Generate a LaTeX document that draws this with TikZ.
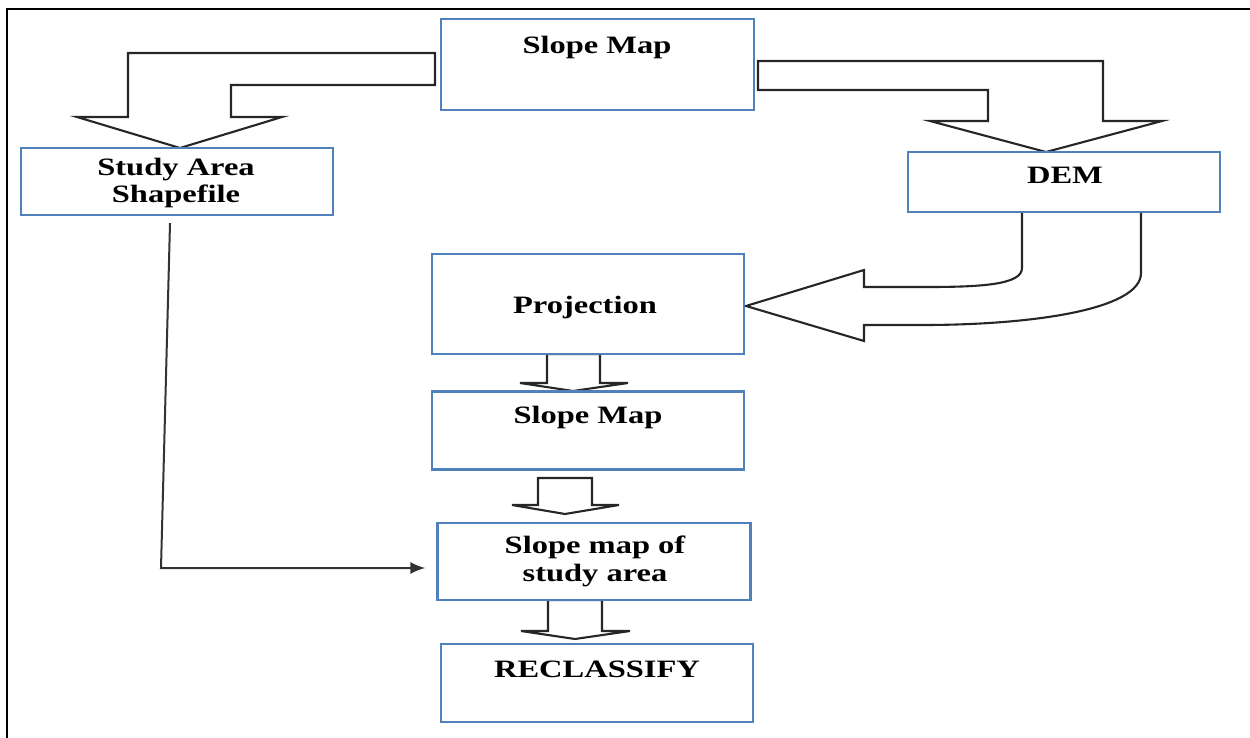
\documentclass[tikz,border=0pt]{standalone}
\usepackage{fontspec}
\setmainfont{Liberation Serif}
\usetikzlibrary{arrows.meta,calc}
\definecolor{boxblue}{RGB}{79,129,189}
\pgfdeclarelayer{back}
\pgfsetlayers{back,main}
% wide bold lettering
\newcommand\stretchtxt[1]{\scalebox{1.3}[1]{#1}}
\begin{document}
\begin{tikzpicture}[x=1pt,y=-1pt,
  box/.style={draw=boxblue,line width=2.2pt,fill=white,inner sep=0pt},
  lbl/.style={anchor=base,font=\bfseries\fontsize{25}{27.5}\selectfont,align=center,inner sep=0pt},
  blk/.style={draw=black!85,line width=2.1pt,fill=white,line join=miter},
  link/.style={draw=black!80,line width=2pt,-{Latex[length=15pt,width=12pt]}}]
\useasboundingbox (0,0) rectangle (1250,738);

% outer frame (top and left edges)
\draw[line width=2.8pt] (7,738) -- (7,9) -- (1250,9);

% process boxes
\node[box,minimum width=313pt,minimum height=91pt] (slopetop) at (597.5,64.5) {};
\node[box,minimum width=312pt,minimum height=67pt] (study) at (177,181.5) {};
\node[box,minimum width=312pt,minimum height=60pt] (dem) at (1064,182) {};
\node[box,minimum width=312pt,minimum height=100pt] (proj) at (588,304) {};
\node[box,minimum width=312pt,minimum height=78pt] (slopemap) at (588,430.5) {};
\node[box,minimum width=313pt,minimum height=77pt] (slopestudy) at (594,561.5) {};
\node[box,minimum width=312pt,minimum height=78pt] (reclass) at (597,683) {};

% box labels (base anchor = baseline of the last line)
\node[lbl] (tslopetop) at (597,54) {\stretchtxt{Slope Map}};
\node[lbl] (tstudy) at (176,203) {\stretchtxt{Study Area}\\\stretchtxt{Shapefile}};
\node[lbl] (tdem) at (1065,184) {\stretchtxt{DEM}};
\node[lbl] (tproj) at (585,313) {\stretchtxt{Projection}};
\node[lbl] (tslopemap) at (588,423) {\stretchtxt{Slope Map}};
\node[lbl] (tslopestudy) at (595,581) {\stretchtxt{Slope map of}\\\stretchtxt{study area}};
\node[lbl] (treclass) at (597,677) {\stretchtxt{RECLASSIFY}};

\begin{pgfonlayer}{back}
% bent block arrow: Slope Map -> Study Area Shapefile
\draw[blk] (435,53) -- (128,53) -- (128,117) -- (77,117) -- (180,148) -- (282,117)
  -- (231,117) -- (231,85) -- (435,85) -- cycle;
% bent block arrow: Slope Map -> DEM
\draw[blk] (758,61) -- (1103,61) -- (1103,121) -- (1162,121) -- (1046,152) -- (930,121)
  -- (988,121) -- (988,90) -- (758,90) -- cycle;
% curved block arrow: DEM -> Projection
\draw[blk] (1022,212) -- (1022,268) .. controls (1022,284) and (985,287) .. (928,287)
  -- (864,287) -- (864,270) -- (746,306) -- (864,341) -- (864,325) -- (923,325)
  .. controls (1030,325) and (1141,310) .. (1141,273) -- (1141,212);
% short block arrows down the main column
\draw[blk] (547,354) -- (547,383) -- (520,383) -- (573,391) -- (628,383) -- (600,383) -- (600,354) -- cycle;
\draw[blk] (538,478) -- (538,505) -- (512,505) -- (565,514) -- (619,505) -- (592,505) -- (592,478) -- cycle;
\draw[blk] (548,600) -- (548,631) -- (521,631) -- (575,639) -- (630,631) -- (602,631) -- (602,600) -- cycle;
\end{pgfonlayer}

% thin connector: Study Area Shapefile -> Slope map of study area
\coordinate (bend) at (161,568);
\draw[link,shorten >=11pt] ($(study.south)+(-7,7)$) -- (bend) -- (bend -| slopestudy.west);
\end{tikzpicture}
\end{document}
